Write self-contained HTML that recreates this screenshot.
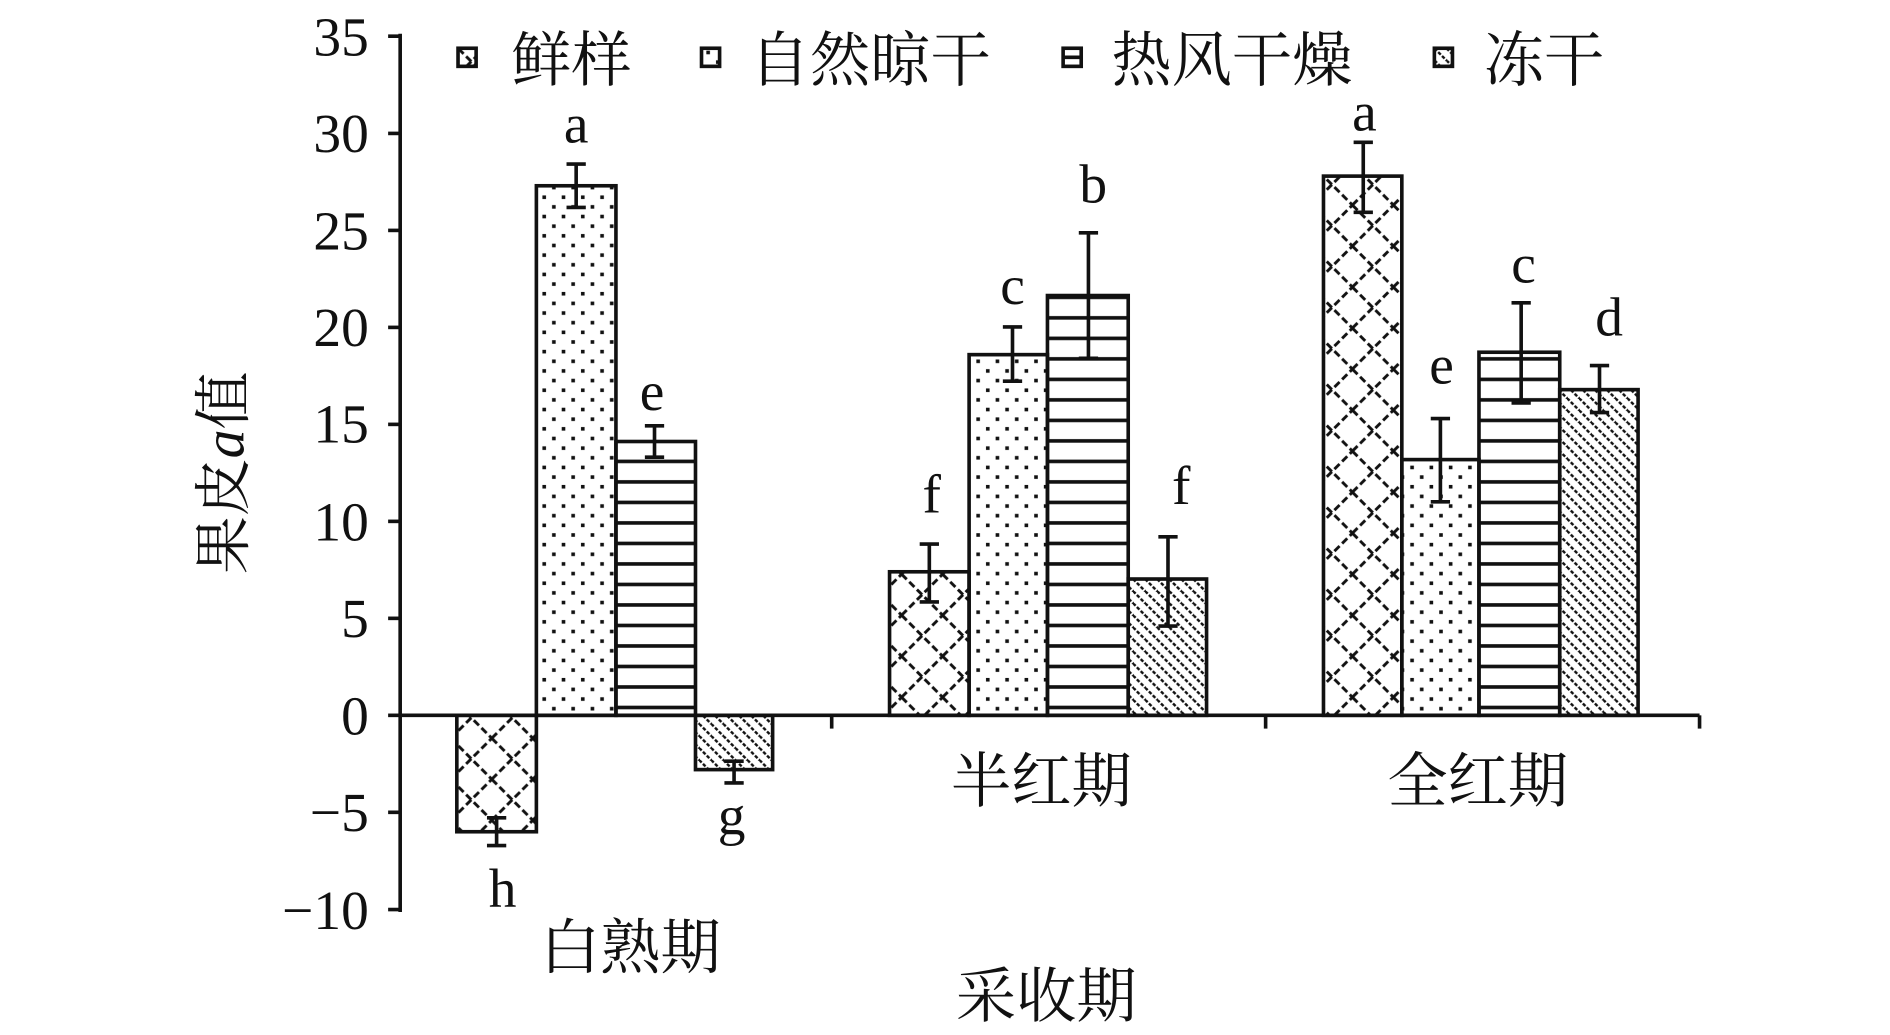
<!DOCTYPE html>
<html><head><meta charset="utf-8"><style>
html,body{margin:0;padding:0;background:#fff;}
svg{display:block;}
text{font-family:"Liberation Serif","Noto Serif CJK SC",serif;fill:#111;}
.cj{font-family:"Liberation Serif","Noto Serif CJK SC","Noto Sans CJK SC",serif;}
</style></head><body>
<svg width="1890" height="1035" viewBox="0 0 1568 858" preserveAspectRatio="none" xmlns="http://www.w3.org/2000/svg">
<defs>
<pattern id="px" width="34" height="34" patternUnits="userSpaceOnUse">
<path d="M0 34L34 0M-5 5L5 -5M29 39L39 29M0 0L34 34M-5 29L5 39M29 -5L39 5" stroke="#111" stroke-width="2.4" stroke-dasharray="6 3"/>
</pattern>
<pattern id="pd" width="16" height="16" patternUnits="userSpaceOnUse">
<rect x="2" y="2" width="3" height="3" fill="#111"/><rect x="10" y="10" width="3" height="3" fill="#111"/>
</pattern>
<pattern id="ph" width="17" height="17" patternUnits="userSpaceOnUse">
<rect x="0" y="7" width="17" height="3" fill="#111"/>
</pattern>
<pattern id="pb" width="10" height="10" patternUnits="userSpaceOnUse">
<path d="M0 0L10 10M-5 5L5 15M5 -5L15 5" stroke="#111" stroke-width="2" stroke-dasharray="3 1.5"/>
</pattern>
</defs>
<g stroke="#111" stroke-width="3" fill="none">
<line x1="332" y1="28" x2="332" y2="756"/>
<line x1="332" y1="593" x2="1410" y2="593"/>
<line x1="322" y1="30" x2="332" y2="30"/><line x1="322" y1="110.6" x2="332" y2="110.6"/>
<line x1="322" y1="191" x2="332" y2="191"/><line x1="322" y1="271.4" x2="332" y2="271.4"/>
<line x1="322" y1="351.8" x2="332" y2="351.8"/><line x1="322" y1="432.2" x2="332" y2="432.2"/>
<line x1="322" y1="512.6" x2="332" y2="512.6"/><line x1="322" y1="593" x2="332" y2="593"/>
<line x1="322" y1="673.4" x2="332" y2="673.4"/><line x1="322" y1="754" x2="332" y2="754"/>
<line x1="690" y1="593" x2="690" y2="604"/><line x1="1050" y1="593" x2="1050" y2="604"/><line x1="1410" y1="593" x2="1410" y2="604"/>
</g>
<g stroke="#111" stroke-width="3">
<rect x="379" y="593" width="66" height="96.5" fill="url(#px)"/>
<rect x="445" y="154" width="66" height="439" fill="url(#pd)"/>
<rect x="511" y="366" width="66" height="227" fill="url(#ph)"/>
<rect x="577" y="593" width="64" height="45" fill="url(#pb)"/>
<rect x="738" y="474" width="66" height="119" fill="url(#px)"/>
<rect x="804" y="294" width="65" height="299" fill="url(#pd)"/>
<rect x="869" y="245" width="67" height="348" fill="url(#ph)"/>
<rect x="936" y="480" width="65" height="113" fill="url(#pb)"/>
<rect x="1098" y="146" width="65" height="447" fill="url(#px)"/>
<rect x="1163" y="381" width="64" height="212" fill="url(#pd)"/>
<rect x="1227" y="292" width="67" height="301" fill="url(#ph)"/>
<rect x="1294" y="323" width="65" height="270" fill="url(#pb)"/>
</g>
<g stroke="#111" stroke-width="3" fill="none">
<path d="M412 678V701M404 678H420M404 701H420"/>
<path d="M478 136V172M470 136H486M470 172H486"/>
<path d="M543 353V379M535 353H551M535 379H551"/>
<path d="M609 631V649M601 631H617M601 649H617"/>
<path d="M771 451V499M763 451H779M763 499H779"/>
<path d="M840 271V316M832 271H848M832 316H848"/>
<path d="M903 193V297M895 193H911M895 297H911"/>
<path d="M969 445V519M961 445H977M961 519H977"/>
<path d="M1131 118V176M1123 118H1139M1123 176H1139"/>
<path d="M1195 347V416M1187 347H1203M1187 416H1203"/>
<path d="M1262 251V334M1254 251H1270M1254 334H1270"/>
<path d="M1327 303V342M1319 303H1335M1319 342H1335"/>
</g>
<g font-size="46" text-anchor="middle">
<text x="417" y="752">h</text><text x="478" y="118">a</text><text x="541" y="340">e</text><text x="607" y="692">g</text>
<text x="773" y="425">f</text><text x="840" y="252">c</text><text x="907" y="168">b</text><text x="980" y="418">f</text>
<text x="1132" y="108">a</text><text x="1196" y="318">e</text><text x="1264" y="234">c</text><text x="1335" y="278">d</text>
</g>
<g font-size="46" text-anchor="end">
<text x="306" y="46">35</text><text x="306" y="126">30</text><text x="306" y="207">25</text><text x="306" y="287">20</text>
<text x="306" y="367">15</text><text x="306" y="448">10</text><text x="306" y="528">5</text><text x="306" y="609">0</text>
<text x="306" y="689">−5</text><text x="306" y="770">−10</text>
</g>
<text class="cj" font-size="48" transform="translate(202,392) rotate(-90)" text-anchor="middle">果皮<tspan font-style="italic">a</tspan>值</text>
<g class="cj" font-size="50" text-anchor="middle">
<text class="cj" x="523" y="803">白熟期</text>
<text class="cj" x="864" y="665">半红期</text>
<text class="cj" x="1226" y="665">全红期</text>
<text class="cj" x="868" y="843">采收期</text>
</g>
<g stroke="#111" stroke-width="3">
<rect x="380" y="40" width="15" height="15" fill="url(#px)"/>
<rect x="582" y="40" width="15" height="15" fill="url(#pd)"/>
<rect x="882" y="40" width="15" height="15" fill="#fff"/>
<line x1="882" y1="47.5" x2="897" y2="47.5"/>
<rect x="1190" y="40" width="15" height="15" fill="url(#pb)"/>
</g>
<g class="cj" font-size="50">
<text class="cj" x="424" y="67">鲜样</text>
<text class="cj" x="622" y="67">自然晾干</text>
<text class="cj" x="922" y="67">热风干燥</text>
<text class="cj" x="1231" y="67">冻干</text>
</g>
</svg>
</body></html>
